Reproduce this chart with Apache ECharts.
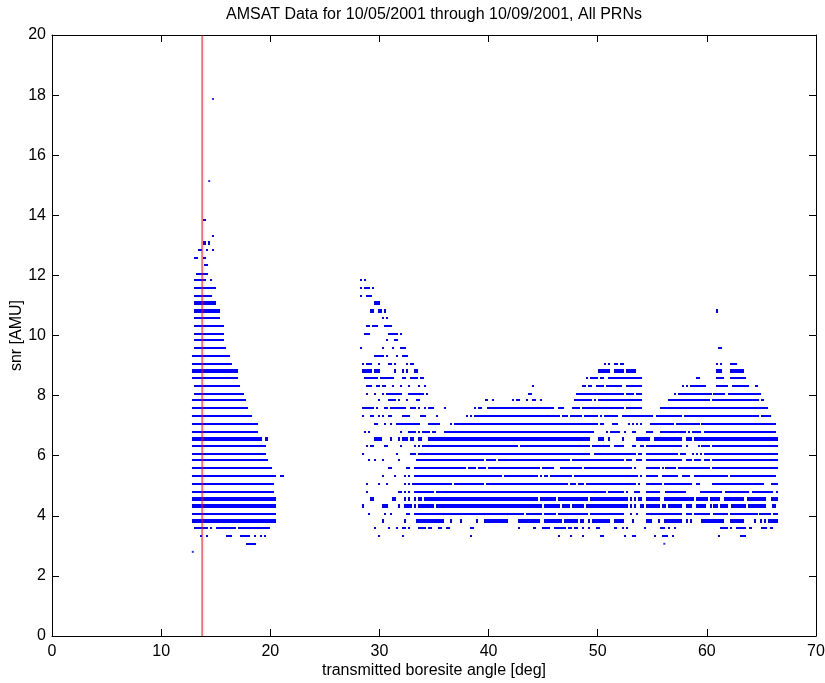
<!DOCTYPE html>
<html>
<head>
<meta charset="utf-8">
<script src="https://cdn.jsdelivr.net/npm/echarts@6/dist/echarts.min.js"></script>
<style>
html,body{margin:0;padding:0;background:#fff;}
#chart{width:825px;height:683px;}
</style>
</head>
<body>
<div id="chart"></div>
<script>
// ---------- DATA ----------
const titleText = 'AMSAT Data for 10/05/2001 through 10/09/2001, All PRNs';
const xAxisName = 'transmitted boresite angle [deg]';
const yAxisName = 'snr [AMU]';
const xTickValues = [0, 10, 20, 30, 40, 50, 60, 70];
const yTickValues = [0, 2, 4, 6, 8, 10, 12, 14, 16, 18, 20];
const refAngle = 13.75; // red vertical reference line

// snr levels that appear as doubled (two close quantised values)
const doubleLevels = [13.09, 11.09, 10.82, 8.83, 6.57, 4.57, 4.31, 3.84];

// each row: [snr, x0, x1, x0, x1, ...] runs of samples at that snr level
const leftBands = [
  [13.85, 13.8,14.1],
  [13.32, 14.65,14.8],
  [13.09, 13.8,14.1, 14.25,14.45],
  [12.86, 13.35,13.75, 14.1,14.3, 14.65,14.8],
  [12.59, 13.0,13.35, 13.8,14.1],
  [12.33, 13.9,14.3],
  [12.06, 13.2,14.3],
  [11.86, 13.0,14.1, 14.5,14.65],
  [11.59, 13.0,15.0],
  [11.33, 13.0,14.65],
  [11.09, 13.0,15.0],
  [10.82, 13.0,15.4],
  [10.59, 13.0,15.4],
  [10.33, 13.0,15.75],
  [10.06, 13.0,15.75],
  [9.86, 13.0,15.75],
  [9.59, 13.0,15.95],
  [9.33, 12.85,16.3],
  [9.06, 12.85,16.5],
  [8.83, 12.85,17.05],
  [8.6, 12.85,17.05],
  [8.33, 13.0,17.2],
  [8.06, 13.0,17.6],
  [7.86, 12.85,17.8],
  [7.6, 12.85,17.95],
  [7.33, 12.85,18.3],
  [7.06, 12.85,18.85],
  [6.8, 12.85,18.85],
  [6.57, 12.85,19.25, 19.5,19.8],
  [6.33, 12.85,19.6],
  [6.07, 12.85,19.6],
  [5.87, 12.85,19.8],
  [5.6, 12.85,20.15],
  [5.34, 12.85,20.5, 20.9,21.25],
  [5.07, 12.85,20.35],
  [4.8, 12.85,20.35],
  [4.57, 12.85,20.5],
  [4.31, 12.85,20.5],
  [4.07, 12.85,20.5],
  [3.84, 12.85,20.5],
  [3.6, 13.0,14.3, 14.5,14.65, 15.0,16.85, 17.05,20.0],
  [3.34, 13.55,13.75, 14.1,14.3, 15.95,16.5, 17.2,18.1, 18.5,18.7, 19.05,19.25, 19.45,19.6],
  [3.07, 17.8,18.7]
];

const rightBands = [
  [11.86, 28.2,28.4, 28.6,28.8],
  [11.59, 28.2,28.4, 28.6,29.1, 29.3,29.5],
  [11.33, 28.2,28.4, 28.8,29.3],
  [11.09, 29.5,30.05],
  [10.82, 29.15,29.5, 29.85,30.2, 30.4,30.6, 60.8,61.0],
  [10.59, 30.2,30.4, 30.6,30.8],
  [10.33, 28.8,29.15, 29.3,29.85, 30.4,31.15],
  [10.06, 28.6,29.15, 30.8,31.7, 31.9,32.05],
  [9.86, 30.6,30.8, 31.35,31.7],
  [9.59, 28.2,28.4, 30.2,30.4, 31.15,31.35, 31.9,32.4, 61.0,61.35],
  [9.33, 29.5,30.4, 30.6,30.8, 31.5,31.7, 32.05,32.6],
  [9.06, 28.4,28.6, 28.8,29.3, 29.85,30.05, 30.8,31.15, 31.35,31.5, 32.4,32.6, 32.8,33.2, 50.6,50.75, 50.95,51.1, 51.5,51.85, 52.05,52.4, 60.8,61.0, 61.2,61.35, 62.1,62.8],
  [8.83, 28.4,29.3, 29.5,30.05, 31.35,31.5, 32.05,32.25, 32.4,32.6, 33.15,33.5, 50.0,51.1, 51.5,52.4, 52.6,53.5, 60.8,61.35, 62.1,63.4],
  [8.6, 28.6,29.85, 30.05,31.35, 32.05,32.4, 32.8,33.5, 33.7,34.1, 48.9,49.1, 49.3,50.0, 50.2,50.6, 50.95,54.05, 59.0,59.35, 60.8,61.55, 62.1,63.55],
  [8.33, 28.8,29.3, 29.65,30.05, 30.25,30.6, 31.15,31.35, 31.9,32.05, 32.6,32.8, 33.5,33.7, 34.1,34.25, 44.0,44.15, 48.55,48.9, 49.1,49.5, 49.85,50.6, 50.75,52.2, 52.6,54.05, 57.7,57.9, 58.1,58.25, 58.45,59.9, 60.8,61.9, 62.3,63.9, 64.45,64.65],
  [8.06, 28.8,28.95, 29.5,29.65, 30.25,30.4, 30.6,32.05, 32.6,34.1, 34.25,34.45, 43.6,44.0, 48.0,52.4, 52.6,53.3, 53.5,54.05, 57.0,57.15, 57.35,60.45, 60.6,61.7, 61.9,65.0],
  [7.86, 29.85,30.05, 30.8,31.5, 31.7,31.9, 32.4,32.6, 33.35,33.7, 39.7,39.95, 40.3,40.45, 42.15,42.35, 42.5,42.9, 43.4,43.6, 44.0,44.35, 44.7,44.9, 47.85,49.5, 49.65,49.85, 50.0,54.05, 56.4,60.25, 60.45,64.8, 65.0,65.2],
  [7.6, 28.4,29.5, 29.7,29.9, 30.4,30.8, 30.95,32.4, 32.8,33.35, 33.5,33.7, 34.1,34.3, 34.45,35.0, 35.9,36.1, 38.65,38.8, 39.0,39.4, 39.9,46.0, 46.35,46.9, 47.65,48.4, 48.55,52.4, 52.6,54.05, 55.7,65.6],
  [7.33, 28.4,28.6, 29.15,29.5, 29.85,30.05, 30.25,30.4, 30.8,31.15, 32.05,32.8, 33.7,34.25, 35.2,35.4, 37.9,38.1, 38.3,38.5, 38.65,46.5, 46.7,47.3, 47.45,48.55, 48.75,50.0, 50.2,50.4, 50.6,51.85, 52.2,55.1, 55.3,57.7, 57.9,64.8, 65.0,65.9],
  [7.06, 29.5,29.85, 30.4,30.6, 30.95,31.15, 31.5,33.7, 34.45,35.55, 36.45,36.65, 36.8,50.0, 50.2,50.6, 51.3,51.85, 52.8,52.95, 53.15,53.35, 53.5,53.7, 53.85,54.05, 54.8,57.0, 57.15,59.35, 59.5,66.3],
  [6.8, 28.6,28.8, 28.95,29.15, 31.9,32.05, 32.6,33.35, 33.5,33.7, 33.9,34.6, 34.8,35.2, 35.9,49.65, 50.75,50.95, 51.1,52.05, 52.4,52.6, 53.15,53.5, 54.4,55.1, 55.7,58.1, 58.25,58.45, 58.6,59.5, 59.7,66.3],
  [6.57, 29.5,30.25, 30.95,31.15, 31.7,31.9, 32.05,32.6, 32.8,33.15, 33.5,33.9, 34.45,49.3, 50.0,50.6, 50.95,51.1, 52.2,52.4, 53.5,54.8, 55.15,57.7, 58.1,58.6, 58.8,66.5],
  [6.33, 28.8,28.95, 29.15,29.5, 30.4,30.8, 31.9,32.05, 33.15,33.35, 33.5,33.7, 33.9,42.7, 42.9,49.3, 49.5,51.1, 51.5,52.4, 53.15,53.5, 53.85,54.25, 54.4,57.7, 58.1,58.25, 59.2,59.35, 59.5,60.25, 60.45,66.5],
  [6.07, 28.4,28.6, 31.5,31.7, 32.8,33.35, 33.5,49.3, 49.65,53.5, 53.7,54.05, 54.4,57.35, 57.5,58.1, 58.6,58.8, 59.0,59.2, 59.35,59.5, 59.7,66.5],
  [5.87, 28.95,29.15, 29.5,29.7, 30.25,30.4, 31.7,31.9, 33.35,39.6, 39.8,40.7, 40.9,47.45, 47.65,52.4, 52.6,53.15, 53.5,54.05, 54.4,57.7, 58.1,58.6, 58.8,59.5, 59.7,60.25, 60.45,66.5],
  [5.6, 30.8,31.15, 32.4,32.8, 33.15,37.9, 38.1,38.85, 39.0,39.8, 39.95,44.7, 44.9,46.0, 46.55,48.55, 48.75,53.15, 53.35,53.5, 54.4,55.7, 55.85,56.05, 56.2,57.15, 57.35,60.25, 60.45,66.5],
  [5.34, 30.25,30.4, 31.35,31.5, 32.25,32.4, 32.6,32.8, 33.15,41.25, 41.4,44.5, 44.7,44.9, 45.1,45.45, 45.65,47.65, 47.85,53.7, 53.85,54.05, 54.4,55.5, 55.85,57.35, 57.7,58.45, 58.8,61.9, 62.1,66.3],
  [5.07, 28.8,28.95, 29.85,30.05, 30.6,30.8, 32.25,32.4, 32.6,32.8, 33.0,36.65, 36.8,39.6, 39.8,47.25, 47.45,48.0, 48.2,48.75, 48.9,53.5, 53.7,53.85, 54.4,55.85, 56.05,58.6, 59.0,59.35, 60.45,65.2, 65.9,66.5],
  [4.8, 28.8,28.95, 31.7,32.05, 32.25,32.4, 32.6,32.8, 33.15,35.0, 35.2,50.75, 50.95,52.4, 52.6,52.8, 53.35,53.85, 54.4,55.7, 56.2,58.1, 59.35,61.35, 61.7,63.9, 64.1,66.1, 66.3,66.5],
  [4.57, 29.15,29.5, 31.15,31.5, 32.25,32.4, 32.6,32.8, 33.15,33.35, 33.5,33.9, 34.1,44.5, 44.7,46.2, 46.35,49.1, 49.3,52.8, 52.95,53.15, 53.35,53.5, 53.7,54.05, 54.4,55.7, 56.05,58.8, 59.0,60.1, 60.25,61.2, 61.55,63.4, 63.7,65.4, 65.9,66.5],
  [4.31, 28.4,28.6, 30.25,30.8, 31.7,31.9, 32.25,33.0, 33.15,33.35, 33.5,35.0, 35.2,44.9, 45.1,46.55, 46.7,47.45, 47.65,48.75, 48.9,52.8, 52.95,53.15, 53.35,53.5, 53.85,54.25, 54.4,55.7, 55.85,56.25, 56.4,57.7, 58.05,58.6, 59.0,59.9, 60.25,60.45, 60.6,61.0, 61.2,61.9, 62.25,63.55, 63.75,65.4, 65.95,66.3],
  [4.07, 28.95,29.15, 30.4,30.6, 30.95,31.15, 32.4,32.8, 33.15,43.25, 43.45,44.9, 45.1,46.2, 46.35,49.1, 49.3,52.4, 52.95,53.15, 53.5,53.7, 54.4,57.7, 58.1,58.6, 58.8,60.25, 60.6,61.9, 62.1,64.65, 64.8,65.9, 66.1,66.5],
  [3.84, 30.25,30.4, 32.25,32.4, 33.35,35.9, 36.45,36.65, 37.4,37.55, 38.85,39.0, 39.6,41.8, 42.7,44.7, 45.1,46.7, 46.9,48.2, 48.4,48.75, 49.1,49.3, 49.5,51.1, 51.5,52.4, 53.15,53.35, 54.4,55.0, 55.5,55.7, 56.05,57.7, 58.05,58.25, 58.45,58.6, 59.5,61.55, 62.1,63.4, 64.3,64.5, 64.85,65.0, 65.2,65.4, 65.6,66.5],
  [3.6, 29.5,29.7, 30.8,30.95, 31.5,31.7, 32.05,32.4, 32.6,32.8, 33.5,34.25, 34.45,34.8, 35.4,35.7, 36.1,36.45, 38.3,38.65, 42.7,42.9, 44.1,44.3, 44.9,45.6, 46.0,47.1, 47.3,47.6, 47.8,48.2, 48.55,48.7, 49.1,49.3, 49.8,50.2, 51.5,51.8, 52.2,52.4, 52.6,52.7, 54.2,54.4, 55.7,56.2, 56.4,56.6, 56.95,57.15, 61.2,61.9, 62.1,62.25, 62.65,63.55, 63.9,64.1, 65.0,65.55, 65.75,66.1],
  [3.34, 29.85,30.05, 32.05,32.25, 38.3,38.5, 46.35,46.55, 47.45,47.65, 48.55,48.75, 50.2,50.6, 52.4,52.6, 53.15,53.5, 55.15,55.35, 55.9,56.4, 56.8,56.95, 61.0,61.2, 63.0,63.55]
];

// isolated samples [angle, snr]
const isolatedPoints = [
  [14.75, 17.87],
  [14.4, 15.14],
  [12.9, 2.8],
  [56.1, 3.07]
];

// ---------- build series data ----------
function toRuns(bands) {
  const out = [];
  bands.forEach(function (row) {
    const snr = row[0];
    for (let i = 1; i + 1 < row.length; i += 2) {
      out.push([row[i], row[i + 1], snr]);
    }
  });
  return out;
}
const runData = toRuns(leftBands).concat(toRuns(rightBands));
const doubleSet = new Set(doubleLevels);

const FONT = '"Liberation Sans", Arial, Helvetica, sans-serif';
const BLUE = '#0000ff';

const chart = echarts.init(document.getElementById('chart'), null, {renderer: 'canvas'});

function axisCommon(extra) {
  return Object.assign({
    type: 'value',
    splitLine: {show: false},
    nameMoveOverlap: false,
    axisLine: {show: true, onZero: false, lineStyle: {color: '#000', width: 1}},
    axisTick: {show: true, inside: true, length: 7, lineStyle: {color: '#000', width: 1}},
    axisLabel: {show: true, color: '#000', fontSize: 16, fontFamily: FONT},
    nameTextStyle: {color: '#000', fontSize: 16, fontFamily: FONT}
  }, extra);
}

const option = {
  animation: false,
  backgroundColor: '#fff',
  grid: {left: 52, right: 9, top: 35, bottom: 47, containLabel: false, outerBoundsMode: 'none'},
  graphic: [{
    type: 'text',
    x: 434, y: 15,
    style: {
      text: titleText,
      fill: '#000',
      font: '16px ' + FONT,
      textAlign: 'center',
      textVerticalAlign: 'middle'
    },
    z: 10
  }],
  xAxis: [
    axisCommon({
      position: 'bottom', min: xTickValues[0], max: xTickValues[xTickValues.length - 1],
      interval: xTickValues[1] - xTickValues[0],
      name: xAxisName, nameLocation: 'middle', nameGap: 27,
      axisLabel: {show: true, color: '#000', fontSize: 16, fontFamily: FONT, margin: 8}
    }),
    axisCommon({
      position: 'top', min: xTickValues[0], max: xTickValues[xTickValues.length - 1],
      interval: xTickValues[1] - xTickValues[0],
      axisLabel: {show: false}
    })
  ],
  yAxis: [
    axisCommon({
      position: 'left', min: yTickValues[0], max: yTickValues[yTickValues.length - 1],
      interval: yTickValues[1] - yTickValues[0],
      name: yAxisName, nameLocation: 'middle', nameGap: 27, nameRotate: 90,
      axisLabel: {show: true, color: '#000', fontSize: 16, fontFamily: FONT, margin: 6}
    }),
    axisCommon({
      position: 'right', min: yTickValues[0], max: yTickValues[yTickValues.length - 1],
      interval: yTickValues[1] - yTickValues[0],
      axisLabel: {show: false}
    })
  ],
  series: [
    {
      type: 'custom',
      name: 'snr',
      xAxisIndex: 0, yAxisIndex: 0,
      data: runData,
      encode: {x: [0, 1], y: 2},
      renderItem: function (params, api) {
        const x0 = api.value(0), x1 = api.value(1), y = api.value(2);
        const p0 = api.coord([x0, y]);
        const p1 = api.coord([x1, y]);
        const h = doubleSet.has(y) ? 4 : 2;
        const left = Math.round(p0[0]);
        const w = Math.max(2, Math.round(p1[0]) - left);
        return {
          type: 'rect',
          shape: {x: left, y: Math.round(p0[1] - h / 2), width: w, height: h},
          style: {fill: BLUE}
        };
      },
      z: 2
    },
    {
      type: 'scatter',
      name: 'isolated',
      xAxisIndex: 0, yAxisIndex: 0,
      data: isolatedPoints,
      symbol: 'rect',
      symbolSize: [2, 2],
      itemStyle: {color: BLUE},
      z: 2
    },
    {
      type: 'line',
      name: 'reference',
      xAxisIndex: 0, yAxisIndex: 0,
      data: [[refAngle, yTickValues[0]], [refAngle, yTickValues[yTickValues.length - 1]]],
      symbol: 'none',
      lineStyle: {color: '#ff0000', width: 1},
      z: 5
    }
  ]
};
chart.setOption(option);
</script>
</body>
</html>
